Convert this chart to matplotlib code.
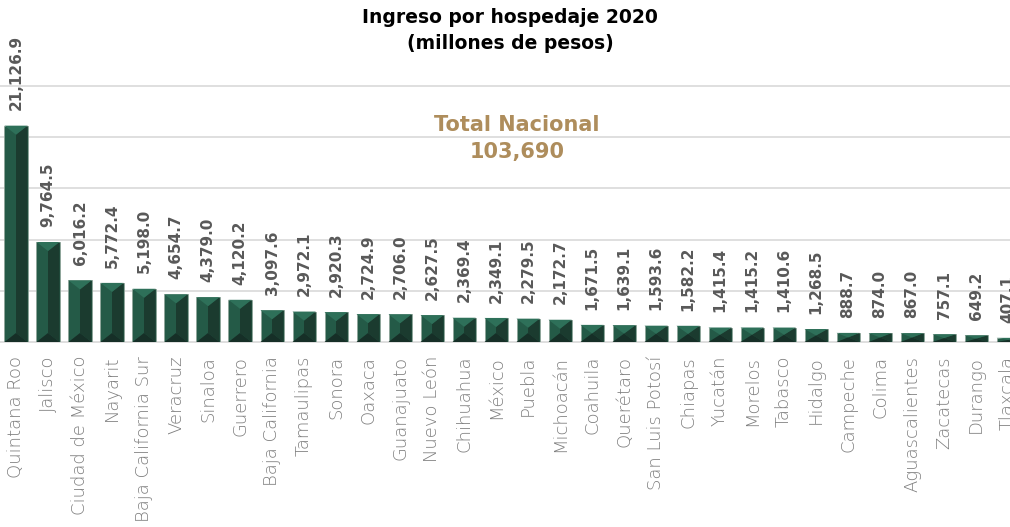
import matplotlib
matplotlib.use("Agg")
import matplotlib.pyplot as plt
from matplotlib.patches import Polygon

estados = ["Quintana Roo", "Jalisco", "Ciudad de México", "Nayarit", "Baja California Sur",
           "Veracruz", "Sinaloa", "Guerrero", "Baja California", "Tamaulipas", "Sonora",
           "Oaxaca", "Guanajuato", "Nuevo León", "Chihuahua", "México", "Puebla",
           "Michoacán", "Coahuila", "Querétaro", "San Luis Potosí", "Chiapas", "Yucatán",
           "Morelos", "Tabasco", "Hidalgo", "Campeche", "Colima", "Aguascalientes",
           "Zacatecas", "Durango", "Tlaxcala"]
ingreso = [21126.9, 9764.5, 6016.2, 5772.4, 5198.0, 4654.7, 4379.0, 4120.2, 3097.6,
           2972.1, 2920.3, 2724.9, 2706.0, 2627.5, 2369.4, 2349.1, 2279.5, 2172.7,
           1671.5, 1639.1, 1593.6, 1582.2, 1415.4, 1415.2, 1410.6, 1268.5, 888.7,
           874.0, 867.0, 757.1, 649.2, 407.1]
total_nacional = "103,690"

# colores del bisel
c_izq = "#245a47"
c_der = "#1b3b2f"
c_sup = "#2e7059"
c_inf = "#162f27"
gris_grid = "#dcdcdc"

fig = plt.figure(figsize=(10.10, 5.27), dpi=100)
ax = fig.add_axes([0, 185/527, 1, 256/527])

w = 0.72
bisel = 880  # profundidad del bisel (~9 px)
bars = ax.bar(range(len(ingreso)), ingreso, width=w, color=c_izq,
              edgecolor="#8fa59a", linewidth=0.6, zorder=3)

for i, v in enumerate(ingreso):
    x0, x1, xc = i - w/2, i + w/2, i
    d = min(bisel, v/2)
    ax.add_patch(Polygon([(x1, v), (x1, 0), (xc, d), (xc, v - d)], closed=True,
                         facecolor=c_der, edgecolor="none", zorder=4))
    ax.add_patch(Polygon([(x0, v), (x1, v), (xc, v - d)], closed=True,
                         facecolor=c_sup, edgecolor="none", zorder=4))
    ax.add_patch(Polygon([(x0, 0), (x1, 0), (xc, d)], closed=True,
                         facecolor=c_inf, edgecolor="none", zorder=4))
    ax.annotate(f"{v:,.1f}", xy=(i, v), xytext=(0, 11), textcoords="offset points",
                rotation=90, ha="center", va="bottom", fontsize=11,
                fontweight="bold", color="#595959", annotation_clip=False, zorder=5)

ax.set_xlim(-0.5, 31.06)
ax.set_ylim(0, 25000)
for y in range(0, 25001, 5000):
    ax.axhline(y, color=gris_grid, linewidth=1.3, zorder=1, clip_on=False)

ax.set_xticks(range(len(estados)))
ax.set_xticklabels(estados, rotation=90, ha="center", va="top", fontsize=13,
                   color="#7f7f7f", fontweight="light")
ax.tick_params(axis="x", length=0, pad=10)
ax.set_yticks([])
for s in ax.spines.values():
    s.set_visible(False)

fig.text(0.505, 0.984, "Ingreso por hospedaje 2020\n(millones de pesos)", ha="center",
         va="top", fontsize=13.5, fontweight="bold", color="black", linespacing=1.45)
ax.text(15.65, 19850, "Total Nacional\n" + total_nacional, ha="center", va="center",
        fontsize=15, fontweight="bold", color="#ae8d5c", linespacing=1.45, zorder=6)

fig.savefig("out.png", dpi=100)
